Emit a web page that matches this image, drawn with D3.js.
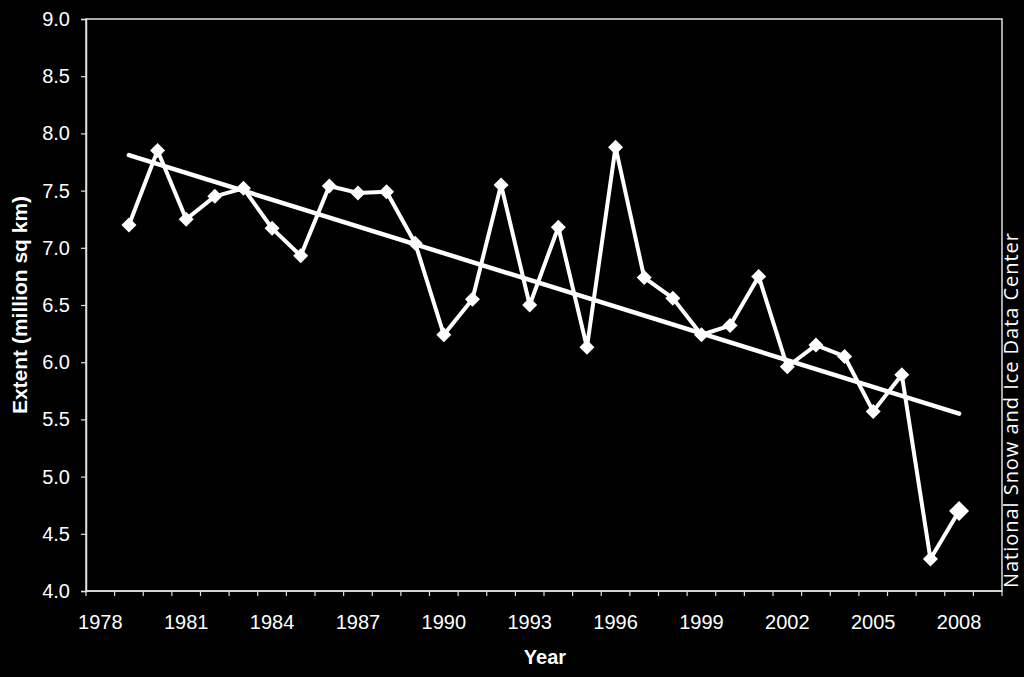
<!DOCTYPE html>
<html>
<head>
<meta charset="utf-8">
<script src="https://cdn.jsdelivr.net/npm/d3@7"></script>
<style>
  html, body { margin: 0; padding: 0; background: #000; }
  svg { display: block; }
</style>
</head>
<body>
<svg id="chart" width="1024" height="677"></svg>
<script>
// Data
const categories = d3.range(1978, 2010); // category axis 1978..2009
const years = [1979,1980,1981,1982,1983,1984,1985,1986,1987,1988,1989,1990,1991,1992,1993,1994,1995,1996,1997,1998,1999,2000,2001,2002,2003,2004,2005,2006,2007,2008];
const extent = [7.20,7.85,7.25,7.45,7.52,7.17,6.93,7.54,7.48,7.49,7.04,6.24,6.55,7.55,6.50,7.18,6.13,7.88,6.74,6.56,6.24,6.32,6.75,5.96,6.15,6.05,5.57,5.89,4.28,4.70];
const trendYears = [1979, 2008];
const trendValues = [7.81, 5.55];
const xTickLabels = [1978,1981,1984,1987,1990,1993,1996,1999,2002,2005,2008];
const yTicks = [4.0,4.5,5.0,5.5,6.0,6.5,7.0,7.5,8.0,8.5,9.0];

(function () {
const svg = d3.select("#chart");
svg.append("rect").attr("width",1024).attr("height",677).attr("fill","#000");

const mL = 86, mR = 1002, mT = 19, mB = 591;

const x = d3.scaleBand().domain(categories).range([mL, mR]).paddingInner(0).paddingOuter(0);
const y = d3.scaleLinear().domain([4, 9]).range([mB, mT]);
const cx = d => x(d) + x.bandwidth() / 2;

// plot border
svg.append("rect")
  .attr("x", mL).attr("y", mT)
  .attr("width", mR - mL).attr("height", mB - mT)
  .attr("fill", "none").attr("stroke", "#e0e0e0").attr("stroke-width", 1.5);

// Y axis
const yAxis = svg.append("g").attr("transform", `translate(${mL},0)`)
  .call(d3.axisLeft(y).tickValues(yTicks).tickFormat(d3.format(".1f")).tickSize(5).tickPadding(11));
yAxis.select(".domain").attr("stroke", "#e0e0e0").attr("stroke-width", 1.5);
yAxis.selectAll(".tick line").attr("stroke", "#e0e0e0").attr("stroke-width", 1.2);
yAxis.selectAll(".tick text")
  .attr("fill", "#fff")
  .style("font-family", "'Liberation Sans', Arial, sans-serif")
  .style("font-size", "20px");

// X axis: ticks at category boundaries
const boundaries = d3.range(0, categories.length + 1).map(i => mL + i * x.bandwidth());
svg.append("g").selectAll("line").data(boundaries).join("line")
  .attr("x1", d => d).attr("x2", d => d)
  .attr("y1", mB).attr("y2", mB + 5)
  .attr("stroke", "#e0e0e0").attr("stroke-width", 1.2);
svg.append("line").attr("x1", mL).attr("x2", mR).attr("y1", mB).attr("y2", mB)
  .attr("stroke", "#e0e0e0").attr("stroke-width", 1.5);

svg.append("g").selectAll("text").data(xTickLabels).join("text")
  .attr("x", d => cx(d)).attr("y", 629)
  .attr("text-anchor", "middle")
  .attr("fill", "#fff")
  .style("font-family", "'Liberation Sans', Arial, sans-serif")
  .style("font-size", "20px")
  .text(d => d);

// Axis titles
svg.append("text")
  .attr("x", 545).attr("y", 664)
  .attr("text-anchor", "middle")
  .attr("fill", "#fff")
  .style("font-family", "'Liberation Sans', Arial, sans-serif")
  .style("font-size", "20px").style("font-weight", "bold")
  .text("Year");

svg.append("text")
  .attr("transform", `translate(27,${(mT + mB) / 2}) rotate(-90)`)
  .attr("text-anchor", "middle")
  .attr("fill", "#fff")
  .style("font-family", "'Liberation Sans', Arial, sans-serif")
  .style("font-size", "21px").style("font-weight", "bold")
  .text("Extent (million sq km)");

// Credit
svg.append("text")
  .attr("transform", `translate(1018,588) rotate(-90)`)
  .attr("text-anchor", "start")
  .attr("fill", "#fff")
  .attr("textLength", 355)
  .attr("lengthAdjust", "spacing")
  .style("font-family", "'Open Sans', 'Noto Sans', sans-serif")
  .style("font-size", "20px")
  .text("National Snow and Ice Data Center");

// Trend line
svg.append("line")
  .attr("x1", cx(trendYears[0])).attr("y1", y(trendValues[0]))
  .attr("x2", cx(trendYears[1])).attr("y2", y(trendValues[1]))
  .attr("stroke", "#fff").attr("stroke-width", 4.5).attr("stroke-linecap", "round");

// Data line
const pts = years.map((yr, i) => ({ yr, v: extent[i] }));
svg.append("path").datum(pts)
  .attr("d", d3.line().x(d => cx(d.yr)).y(d => y(d.v)))
  .attr("fill", "none").attr("stroke", "#fff").attr("stroke-width", 4).attr("stroke-linejoin", "round");

// Diamond markers
svg.append("g").selectAll("path").data(pts).join("path")
  .attr("transform", d => `translate(${cx(d.yr)},${y(d.v)})`)
  .attr("d", (d, i) => {
    const r = i === pts.length - 1 ? 10 : 7.5;
    return `M0,${-r}L${r},0L0,${r}L${-r},0Z`;
  })
  .attr("fill", "#fff");
})();
</script>
</body>
</html>
